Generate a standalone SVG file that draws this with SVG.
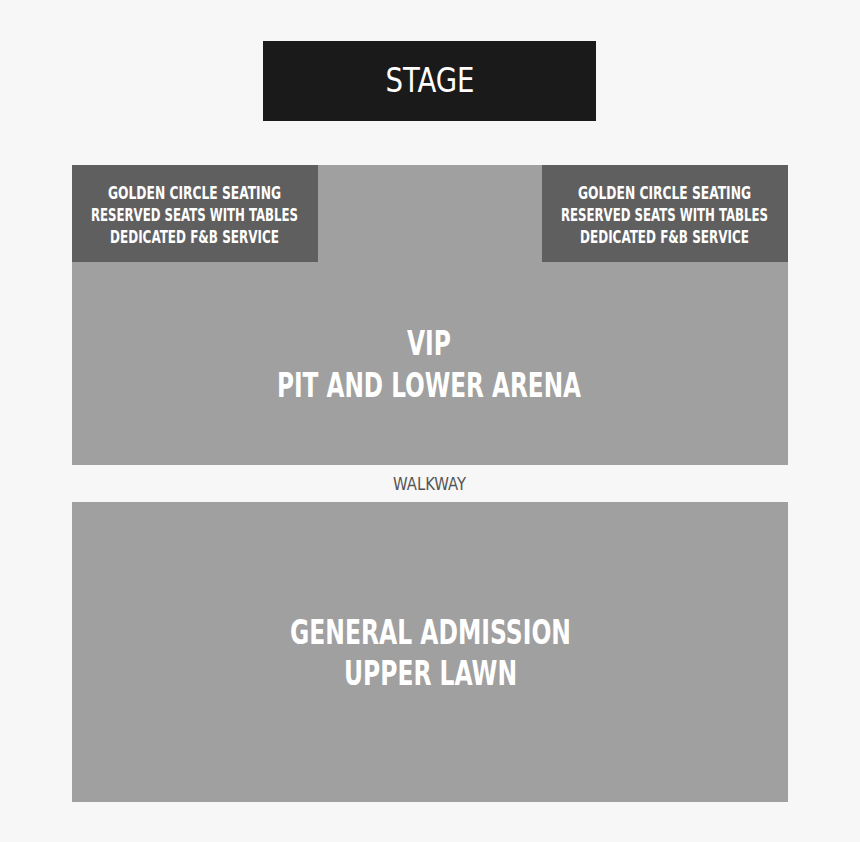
<svg xmlns="http://www.w3.org/2000/svg" width="860" height="842" viewBox="0 0 860 842">
<style>
text{font-family:"DejaVu Sans Condensed","DejaVu Sans","Liberation Sans Narrow",sans-serif;font-stretch:condensed;text-anchor:middle;fill:#ffffff}
.gc{font-size:17px;font-weight:bold}
.big{font-size:33px;font-weight:bold}
.stage{font-size:34px}
.walk{font-size:17px;fill:#555555}
.vip{fill:#a0a0a0}
.gold{fill:#5f5f5f}
</style>
<rect width="860" height="842" fill="#f7f7f7"/>
<g id="stage">
<rect x="263" y="41" width="333" height="80" fill="#1a1a1a"/>
<text class="stage" x="430" y="92" textLength="89" lengthAdjust="spacingAndGlyphs">STAGE</text>
</g>
<g id="vip">
<rect class="vip" x="72" y="165" width="716" height="300"/>
<text class="big" x="429" y="355" textLength="44" lengthAdjust="spacingAndGlyphs">VIP</text>
<text class="big" x="429" y="397" textLength="304" lengthAdjust="spacingAndGlyphs">PIT AND LOWER ARENA</text>
</g>
<g id="golden-left">
<rect class="gold" x="72" y="165" width="246" height="97"/>
<text class="gc" x="194.5" y="199" textLength="173" lengthAdjust="spacingAndGlyphs">GOLDEN CIRCLE SEATING</text>
<text class="gc" x="194.5" y="221" textLength="207" lengthAdjust="spacingAndGlyphs">RESERVED SEATS WITH TABLES</text>
<text class="gc" x="194.5" y="243" textLength="169" lengthAdjust="spacingAndGlyphs">DEDICATED F&amp;B SERVICE</text>
</g>
<g id="golden-right">
<rect class="gold" x="542" y="165" width="246" height="97"/>
<text class="gc" x="664.5" y="199" textLength="173" lengthAdjust="spacingAndGlyphs">GOLDEN CIRCLE SEATING</text>
<text class="gc" x="664.5" y="221" textLength="207" lengthAdjust="spacingAndGlyphs">RESERVED SEATS WITH TABLES</text>
<text class="gc" x="664.5" y="243" textLength="169" lengthAdjust="spacingAndGlyphs">DEDICATED F&amp;B SERVICE</text>
</g>
<g id="walkway">
<text class="walk" x="429.5" y="490" textLength="73" lengthAdjust="spacingAndGlyphs">WALKWAY</text>
</g>
<g id="general-admission">
<rect class="vip" x="72" y="502" width="716" height="300"/>
<text class="big" x="430.5" y="644" textLength="281" lengthAdjust="spacingAndGlyphs">GENERAL ADMISSION</text>
<text class="big" x="430.5" y="685" textLength="173" lengthAdjust="spacingAndGlyphs">UPPER LAWN</text>
</g>
<g id="connectors"/>
</svg>
